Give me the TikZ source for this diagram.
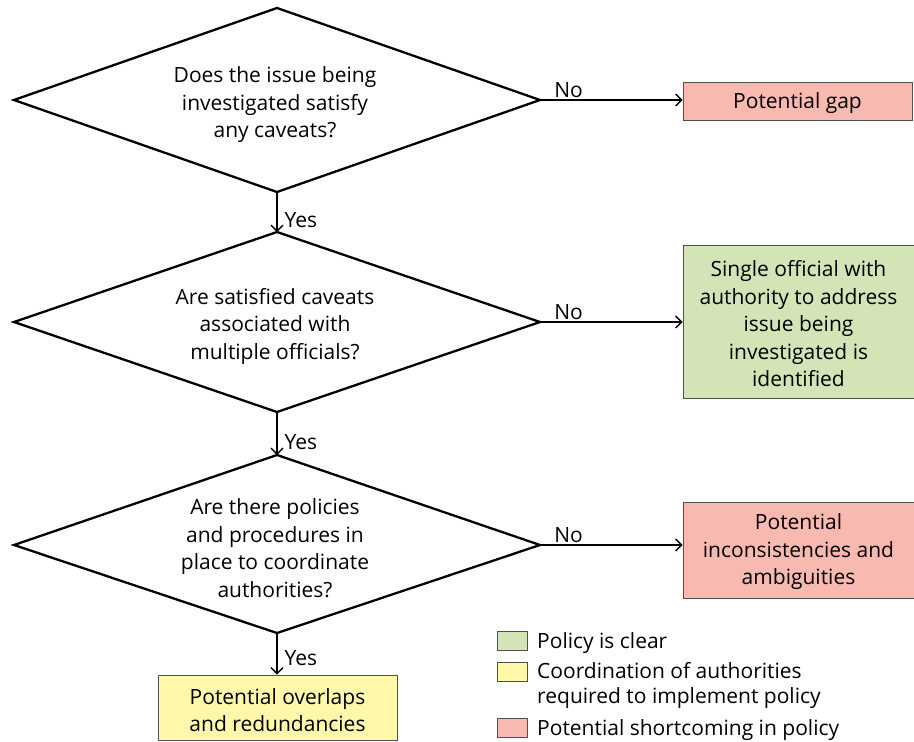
\documentclass[tikz,border=0pt]{standalone}
\usepackage{fontspec}
\setmainfont{Open Sans}
\usetikzlibrary{arrows.meta}
\definecolor{gapred}{RGB}{248,185,176}
\definecolor{okgreen}{RGB}{211,228,182}
\definecolor{coordyel}{RGB}{255,247,170}
\definecolor{boxline}{RGB}{80,80,80}
\begin{document}
\begin{tikzpicture}[x=1pt,y=-1pt,
  every node/.style={font=\fontsize{21}{27.5}\selectfont},
  decision/.style={line width=2.3pt,line join=miter},
  qtext/.style={align=center,inner sep=0pt},
  outcome/.style={draw=boxline,line width=0.9pt,align=center,inner sep=0pt},
  flow/.style={line width=1.4pt,-{Straight Barb[length=6pt,width=12pt,line width=1.4pt]}},
  lbl/.style={inner sep=2pt},
  yeslbl/.style={inner sep=2pt,right,xshift=5pt},
  legbox/.style={draw=boxline,line width=0.9pt,minimum width=30pt,minimum height=19pt,inner sep=0pt}]
\useasboundingbox (0,0) rectangle (914,742);
% decision 1
\coordinate (d1n) at (277,8);
\coordinate (d1s) at (277,192);
\coordinate (d1w) at (14,100);
\coordinate (d1e) at (540,100);
\draw[decision] (d1n) -- (d1e) -- (d1s) -- (d1w) -- cycle;
\node[qtext] (d1) at (275,105) {Does the issue being\\investigated satisfy\\any caveats?};
% decision 2
\coordinate (d2n) at (277,232);
\coordinate (d2s) at (277,412);
\coordinate (d2w) at (14,322);
\coordinate (d2e) at (540,322);
\draw[decision] (d2n) -- (d2e) -- (d2s) -- (d2w) -- cycle;
\node[qtext] (d2) at (275,326) {Are satisfied caveats\\associated with\\multiple officials?};
% decision 3
\coordinate (d3n) at (277,455);
\coordinate (d3s) at (277,633);
\coordinate (d3w) at (14,545);
\coordinate (d3e) at (540,545);
\draw[decision] (d3n) -- (d3e) -- (d3s) -- (d3w) -- cycle;
\node[qtext] (d3) at (275,548) {Are there policies\\and procedures in\\place to coordinate\\authorities?};
% outcomes
\node[outcome,fill=gapred,minimum width=229pt,minimum height=38pt] (o1) at (797.5,101) {};
\node[qtext] (o1t) at (797.5,103) {Potential gap};
\node[outcome,fill=okgreen,minimum width=231pt,minimum height=153pt] (o2) at (798.5,321.5) {};
\node[qtext] (o2t) at (798.5,324) {Single official with\\authority to address\\issue being\\investigated is\\identified};
\node[outcome,fill=gapred,minimum width=231pt,minimum height=96pt] (o3) at (798.5,550) {};
\node[qtext] (o3t) at (798.5,552) {Potential\\inconsistencies and\\ambiguities};
\node[outcome,fill=coordyel,minimum width=239pt,minimum height=65pt] (o4) at (277.5,707.5) {};
\node[qtext] (o4t) at (277.5,710) {Potential overlaps\\and redundancies};
% connectors
\draw[flow] (d1e) -- node[lbl,pos=0.2,above] {No} (d1e -| o1.west);
\draw[flow] (d2e) -- node[lbl,pos=0.2,above] {No} (d2e -| o2.west);
\draw[flow] (d3e) -- node[lbl,pos=0.2,above] {No} (d3e -| o3.west);
\draw[flow] (d1s) -- node[yeslbl,pos=0.7] {Yes} (d2n);
\draw[flow] (d2s) -- node[yeslbl,pos=0.7] {Yes} (d3n);
\draw[flow] (d3s) -- node[yeslbl,pos=0.6] {Yes} (d3s |- o4.north);
% legend
\node[legbox,fill=okgreen] (l1) at (512,640.5) {};
\node[legbox,fill=coordyel] (l2) at (512,671.5) {};
\node[legbox,fill=gapred] (l3) at (512,727.5) {};
\node[anchor=west,inner sep=0pt] (t1) at (537,643) {Policy is clear};
\node[anchor=north west,inner sep=0pt,align=left,font=\fontsize{21}{25.5}\selectfont] (t2) at (537,662) {Coordination of authorities\\required to implement policy};
\node[anchor=west,inner sep=0pt] (t3) at (537,730) {Potential shortcoming in policy};
\end{tikzpicture}
\end{document}
